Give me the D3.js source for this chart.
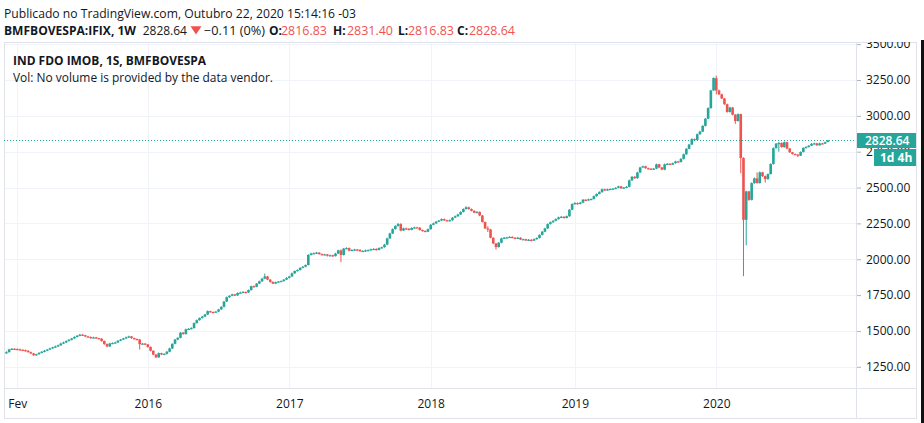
<!DOCTYPE html>
<html><head><meta charset="utf-8">
<script src="https://cdn.jsdelivr.net/npm/d3@7/dist/d3.min.js"></script>
<style>
html,body{margin:0;padding:0;background:#fff;}
svg{display:block;font-family:"Open Sans","Noto Sans",sans-serif;}
</style></head><body>
<svg id="chart" width="924" height="423"></svg>
<script>
// ---- data: weekly candles of IFIX, first bar week of 2015-01-05 ----
const firstWeek = "2015-01-05";
const open = [
1346,1352,1371,1376,1374,1372,1368,1366,1362,1352,
1343,1331,1338,1347,1355,1362,1370,1378,1386,1392,
1400,1412,1420,1430,1438,1448,1458,1466,1474,1470,
1462,1458,1452,1455,1450,1446,1430,1408,1392,1412,
1416,1420,1432,1440,1448,1455,1462,1450,1444,1440,
1408,1412,1406,1388,1362,1335,1316,1345,1336,1340,
1355,1378,1410,1440,1452,1488,1478,1512,1515,1520,
1555,1575,1590,1600,1615,1638,1632,1630,1635,1650,
1668,1705,1735,1745,1755,1748,1765,1768,1772,1768,
1785,1812,1808,1830,1846,1865,1880,1858,1842,1830,
1840,1845,1848,1858,1870,1880,1902,1918,1925,1940,
1948,1960,2030,2040,2042,2046,2036,2032,2034,2025,
2028,2022,2040,2062,2030,2074,2078,2060,2065,2068,
2066,2056,2058,2062,2064,2070,2072,2065,2078,2084,
2102,2145,2180,2210,2232,2245,2200,2215,2212,2205,
2218,2222,2220,2204,2198,2192,2210,2240,2250,2262,
2270,2280,2272,2268,2272,2290,2300,2312,2330,2350,
2362,2350,2338,2325,2330,2305,2260,2215,2208,2150,
2110,2085,2115,2145,2150,2152,2156,2150,2145,2150,
2138,2140,2132,2136,2130,2140,2148,2170,2192,2215,
2245,2258,2268,2280,2292,2296,2288,2300,2345,2385,
2392,2386,2395,2415,2412,2418,2420,2440,2455,2468,
2488,2480,2488,2490,2492,2498,2508,2495,2500,2505,
2550,2575,2565,2605,2640,2648,2635,2632,2628,2632,
2662,2640,2625,2662,2666,2660,2670,2682,2678,2700,
2732,2770,2800,2838,2832,2872,2890,2930,2980,3054,
3177,3262,3177,3150,3121,3081,3027,3058,3008,2964,
3012,2706,2275,2473,2414,2531,2564,2531,2606,2580,
2559,2594,2664,2775,2806,2811,2782,2816,2772,2746,
2734,2730,2723,2748,2776,2783,2792,2805,2808,2795,
2808,2806,2816.83];
const high = [
1358,1376,1380,1379,1378,1377,1372,1371,1365,1356,
1347,1341,1352,1359,1367,1374,1383,1390,1398,1405,
1418,1425,1434,1444,1452,1463,1472,1479,1478,1473,
1466,1461,1460,1459,1453,1450,1433,1413,1418,1420,
1425,1436,1445,1452,1461,1467,1465,1454,1447,1444,
1416,1415,1409,1392,1365,1339,1350,1348,1344,1360,
1383,1414,1445,1456,1492,1493,1516,1520,1526,1559,
1580,1594,1605,1619,1643,1641,1636,1640,1654,1673,
1709,1740,1749,1760,1759,1769,1774,1777,1775,1789,
1816,1817,1834,1851,1870,1900,1884,1861,1846,1844,
1848,1852,1862,1875,1884,1907,1922,1930,1944,1953,
1964,2035,2046,2047,2052,2050,2041,2038,2037,2033,
2032,2045,2067,2068,2079,2084,2082,2069,2073,2071,
2069,2062,2067,2068,2074,2077,2076,2083,2088,2107,
2150,2185,2215,2237,2253,2251,2220,2221,2217,2223,
2227,2226,2224,2207,2201,2214,2245,2256,2267,2274,
2285,2284,2276,2278,2294,2305,2317,2334,2355,2370,
2367,2354,2341,2336,2333,2309,2263,2230,2212,2153,
2114,2120,2150,2156,2157,2161,2160,2153,2155,2154,
2144,2143,2141,2139,2145,2153,2174,2197,2219,2250,
2263,2272,2285,2297,2302,2300,2305,2350,2390,2398,
2396,2400,2420,2419,2423,2424,2445,2460,2474,2493,
2492,2493,2494,2497,2502,2513,2512,2504,2510,2555,
2580,2579,2610,2645,2653,2652,2639,2635,2636,2667,
2666,2643,2667,2671,2669,2674,2687,2686,2705,2737,
2775,2805,2843,2842,2877,2896,2935,2985,3059,3182,
3268,3280,3183,3155,3125,3085,3063,3062,3012,3017,
3015,2711,2478,2477,2536,2570,2606,2612,2610,2584,
2598,2669,2780,2811,2817,2815,2821,2820,2776,2749,
2737,2733,2752,2781,2788,2796,2810,2813,2812,2813,
2812,2820,2831.40];
const low = [
1341,1349,1367,1370,1369,1363,1362,1357,1349,1339,
1326,1328,1334,1344,1351,1359,1366,1375,1382,1389,
1396,1409,1416,1427,1434,1445,1454,1463,1466,1457,
1454,1446,1449,1445,1442,1425,1404,1386,1389,1408,
1413,1416,1429,1436,1445,1451,1445,1440,1435,1370,
1404,1402,1384,1358,1331,1311,1313,1332,1333,1336,
1352,1374,1407,1435,1449,1474,1475,1507,1511,1517,
1551,1572,1586,1597,1611,1628,1625,1627,1631,1647,
1664,1702,1731,1742,1743,1745,1761,1765,1763,1765,
1781,1804,1805,1826,1843,1861,1854,1837,1826,1827,
1836,1842,1844,1855,1866,1877,1898,1915,1921,1937,
1944,1957,2026,2037,2038,2032,2027,2029,2019,2022,
2017,2019,2036,1980,2026,2070,2055,2057,2061,2060,
2052,2053,2052,2059,2060,2067,2060,2062,2074,2081,
2098,2142,2176,2207,2228,2195,2197,2207,2201,2202,
2214,2216,2200,2193,2188,2189,2206,2237,2246,2259,
2266,2267,2264,2265,2268,2287,2296,2309,2326,2347,
2346,2334,2321,2321,2300,2256,2211,2190,2146,2106,
2068,2082,2111,2142,2146,2149,2146,2140,2142,2134,
2134,2127,2129,2124,2127,2136,2145,2166,2189,2211,
2242,2254,2265,2276,2289,2283,2285,2296,2342,2381,
2381,2383,2391,2408,2409,2414,2417,2436,2452,2464,
2476,2477,2484,2487,2488,2495,2491,2492,2496,2502,
2546,2561,2562,2601,2637,2631,2626,2624,2625,2628,
2635,2621,2621,2659,2656,2657,2666,2674,2675,2696,
2728,2767,2796,2828,2829,2868,2887,2926,2977,3050,
3174,3150,3145,3117,3077,3022,3023,3003,2944,2960,
2600,1882,2097,2408,2410,2526,2527,2528,2574,2535,
2555,2591,2660,2771,2750,2778,2779,2767,2742,2730,
2726,2713,2720,2744,2773,2779,2789,2801,2791,2792,
2802,2803,2816.83];
const close = [
1352,1371,1376,1374,1372,1368,1366,1362,1352,1343,
1331,1338,1347,1355,1362,1370,1378,1386,1392,1400,
1412,1420,1430,1438,1448,1458,1466,1474,1470,1462,
1458,1452,1455,1450,1446,1430,1408,1392,1412,1416,
1420,1432,1440,1448,1455,1462,1450,1444,1440,1408,
1412,1406,1388,1362,1335,1316,1345,1336,1340,1355,
1378,1410,1440,1452,1488,1478,1512,1515,1520,1555,
1575,1590,1600,1615,1638,1632,1630,1635,1650,1668,
1705,1735,1745,1755,1748,1765,1768,1772,1768,1785,
1812,1808,1830,1846,1865,1880,1858,1842,1830,1840,
1845,1848,1858,1870,1880,1902,1918,1925,1940,1948,
1960,2030,2040,2042,2046,2036,2032,2034,2025,2028,
2022,2040,2062,2030,2074,2078,2060,2065,2068,2066,
2056,2058,2062,2064,2070,2072,2065,2078,2084,2102,
2145,2180,2210,2232,2245,2200,2215,2212,2205,2218,
2222,2220,2204,2198,2192,2210,2240,2250,2262,2270,
2280,2272,2268,2272,2290,2300,2312,2330,2350,2362,
2350,2338,2325,2330,2305,2260,2215,2208,2150,2110,
2085,2115,2145,2150,2152,2156,2150,2145,2150,2138,
2140,2132,2136,2130,2140,2148,2170,2192,2215,2245,
2258,2268,2280,2292,2296,2288,2300,2345,2385,2392,
2386,2395,2415,2412,2418,2420,2440,2455,2468,2488,
2480,2488,2490,2492,2498,2508,2495,2500,2505,2550,
2575,2565,2605,2640,2648,2635,2632,2628,2632,2662,
2640,2625,2662,2666,2660,2670,2682,2678,2700,2732,
2770,2800,2838,2832,2872,2890,2930,2980,3054,3177,
3264,3177,3150,3121,3081,3027,3058,3008,2964,3012,
2706,2275,2473,2414,2531,2564,2531,2606,2580,2559,
2594,2664,2775,2806,2811,2782,2816,2772,2746,2734,
2730,2723,2748,2776,2783,2792,2805,2808,2795,2808,
2806,2816.83,2828.64];

const priceTicks = [1250,1500,1750,2000,2250,2500,2750,3000,3250,3500];
const timeTickDates = ["2015-02-02","2016-01-04","2017-01-02","2018-01-01","2019-01-07","2020-01-06"];
const timeTickLabels = ["Fev","2016","2017","2018","2019","2020"];
const lastPrice = 2828.64;
const countdown = "1d 4h";

const headerLine1 = "Publicado no TradingView.com, Outubro 22, 2020 15:14:16 -03";
const symbolText = "BMFBOVESPA:IFIX, 1W";
const changeText = "\u22120.11 (0%)";
const ohlcLabels = ["O:","H:","L:","C:"];
const ohlcValues = ["2816.83","2831.40","2816.83","2828.64"];
const legendTitle = "IND FDO IMOB, 1S, BMFBOVESPA";
const legendVol = "Vol: No volume is provided by the data vendor.";

// ---- layout ----
const UP = "#26a69a", DOWN = "#ef5350", TEXT = "#131722";
const GRID = "#f0f3fa", BORDER = "#e0e3eb";
const pane = {l: 4, t: 42, r: 856, b: 388};
const outer = {r: 916, b: 418};

const svg = d3.select("#chart");
const parse = d3.utcParse("%Y-%m-%d");
const start = parse(firstWeek);
const dates = close.map((_, i) => d3.utcMonday.offset(start, i));
const bars = close.map((c, i) => ({date: dates[i], o: open[i], h: high[i], l: low[i], c: c}));

const x = d3.scaleUtc().domain([dates[0], dates[dates.length - 1]]).range([6.4, 827.8]);
const y = d3.scaleLinear().domain([1250, 3250]).range([366.8, 80]);
const step = x(dates[1]) - x(dates[0]);
const bodyW = step * 0.96;

svg.append("rect").attr("width", 924).attr("height", 423).attr("fill", "#fff");

const defs = svg.append("defs");
defs.append("clipPath").attr("id", "paneClip").append("rect")
  .attr("x", pane.l).attr("y", pane.t).attr("width", pane.r - pane.l).attr("height", pane.b - pane.t);
defs.append("clipPath").attr("id", "axisClip").append("rect")
  .attr("x", pane.r).attr("y", pane.t).attr("width", outer.r - pane.r).attr("height", pane.b - pane.t);

// grid
const grid = svg.append("g").attr("clip-path", "url(#paneClip)");
grid.selectAll("line.h").data(priceTicks).join("line")
  .attr("x1", pane.l).attr("x2", pane.r)
  .attr("y1", d => Math.round(y(d)) + 0.5).attr("y2", d => Math.round(y(d)) + 0.5)
  .attr("stroke", GRID);
grid.selectAll("line.v").data(timeTickDates.map(parse)).join("line")
  .attr("y1", pane.t).attr("y2", pane.b)
  .attr("x1", d => Math.round(x(d)) + 0.5).attr("x2", d => Math.round(x(d)) + 0.5)
  .attr("stroke", GRID);

// borders
svg.append("rect").attr("x", pane.l + 0.5).attr("y", pane.t + 0.5)
  .attr("width", outer.r - pane.l).attr("height", outer.b - pane.t)
  .attr("fill", "none").attr("stroke", BORDER);
svg.append("line").attr("x1", pane.r + 0.5).attr("x2", pane.r + 0.5).attr("y1", pane.t).attr("y2", outer.b)
  .attr("stroke", BORDER);
svg.append("line").attr("x1", pane.l).attr("x2", outer.r).attr("y1", pane.b + 0.5).attr("y2", pane.b + 0.5)
  .attr("stroke", BORDER);
// dark right edge of the screenshot
svg.append("rect").attr("x", 921).attr("y", 40).attr("width", 3).attr("height", 383).attr("fill", "#111");

// candles
const cg = svg.append("g").attr("clip-path", "url(#paneClip)");
const candle = cg.selectAll("g.c").data(bars).join("g");
candle.append("line")
  .attr("x1", d => x(d.date)).attr("x2", d => x(d.date))
  .attr("y1", d => y(d.h)).attr("y2", d => y(d.l))
  .attr("stroke", d => d.c >= d.o ? UP : DOWN).attr("stroke-width", 1);
candle.append("rect")
  .attr("x", d => x(d.date) - bodyW / 2).attr("width", bodyW)
  .attr("y", d => y(Math.max(d.o, d.c)))
  .attr("height", d => Math.max(1.2, Math.abs(y(d.o) - y(d.c))))
  .attr("fill", d => d.c >= d.o ? UP : DOWN);

// last price line
svg.append("line").attr("x1", pane.l).attr("x2", pane.r)
  .attr("y1", Math.round(y(lastPrice)) + 0.5).attr("y2", Math.round(y(lastPrice)) + 0.5)
  .attr("stroke", UP).attr("stroke-width", 1).attr("stroke-dasharray", "1,2");

// price axis
const yAxis = d3.axisRight(y).tickValues(priceTicks).tickFormat(d3.format(".2f")).tickSize(4).tickPadding(5);
svg.append("g").attr("clip-path", "url(#axisClip)").append("g")
  .attr("transform", `translate(${pane.r + 1},0)`)
  .call(yAxis)
  .call(g => g.select(".domain").remove())
  .call(g => g.selectAll("line").attr("stroke", "#b2b5be"))
  .call(g => g.selectAll("text").attr("fill", TEXT).attr("font-size", 12)
     .attr("font-family", '"Open Sans","Noto Sans",sans-serif'));

// time axis
const xAxis = d3.axisBottom(x).tickValues(timeTickDates.map(parse))
  .tickFormat((d, i) => timeTickLabels[i]).tickSize(0).tickPadding(11);
svg.append("g").attr("transform", `translate(0,${pane.b})`)
  .call(xAxis)
  .call(g => g.select(".domain").remove())
  .call(g => g.selectAll("text").attr("fill", TEXT).attr("font-size", 12)
     .attr("font-family", '"Open Sans","Noto Sans",sans-serif'));

// last price label + countdown
const ly = Math.round(y(lastPrice)) + 0.5;
svg.append("rect").attr("x", pane.r + 1).attr("y", ly - 7.5).attr("width", outer.r - pane.r - 1).attr("height", 15)
  .attr("fill", UP);
svg.append("text").attr("x", 865).attr("y", ly + 4.3).attr("fill", "#fff")
  .attr("font-size", 12).attr("font-weight", 600).text(d3.format(".2f")(lastPrice));
svg.append("rect").attr("x", 874).attr("y", ly + 8.5).attr("width", outer.r - 874).attr("height", 17)
  .attr("fill", UP);
svg.append("text").attr("x", 880).attr("y", ly + 21.3).attr("fill", "#fff")
  .attr("font-size", 12).attr("font-weight", 700).text(countdown);

// header
svg.append("text").attr("x", 4).attr("y", 18.3).attr("fill", TEXT).attr("font-size", 12.2)
  .attr("textLength", 352).attr("lengthAdjust", "spacingAndGlyphs").text(headerLine1);
const h2 = 34.5;
svg.append("text").attr("x", 4).attr("y", h2).attr("fill", TEXT).attr("font-size", 12)
  .attr("font-weight", 700).attr("textLength", 132).attr("lengthAdjust", "spacingAndGlyphs").text(symbolText);
svg.append("text").attr("x", 142.7).attr("y", h2).attr("fill", TEXT).attr("font-size", 12)
  .attr("textLength", 44.3).attr("lengthAdjust", "spacingAndGlyphs").text(d3.format(".2f")(lastPrice));
svg.append("path").attr("d", "M190.5,26.3 L201.5,26.3 L196,34.5 Z").attr("fill", DOWN);
svg.append("text").attr("x", 204).attr("y", h2).attr("fill", TEXT).attr("font-size", 12)
  .attr("textLength", 61).attr("lengthAdjust", "spacingAndGlyphs").text(changeText);
const labX = [269, 333, 398, 457];
const valX = [281, 347, 408, 469];
ohlcLabels.forEach((t, i) => {
  svg.append("text").attr("x", labX[i]).attr("y", h2).attr("fill", TEXT).attr("font-size", 12)
    .attr("font-weight", 700).text(t);
  svg.append("text").attr("x", valX[i]).attr("y", h2).attr("fill", DOWN).attr("font-size", 12)
    .attr("textLength", 46).attr("lengthAdjust", "spacingAndGlyphs").text(ohlcValues[i]);
});

// pane legend
svg.append("text").attr("x", 13).attr("y", 65).attr("fill", TEXT).attr("font-size", 12)
  .attr("font-weight", 700).attr("textLength", 193).attr("lengthAdjust", "spacingAndGlyphs").text(legendTitle);
svg.append("text").attr("x", 13).attr("y", 81.7).attr("fill", TEXT).attr("font-size", 12)
  .attr("textLength", 260).attr("lengthAdjust", "spacingAndGlyphs").text(legendVol);
</script>
</body></html>
